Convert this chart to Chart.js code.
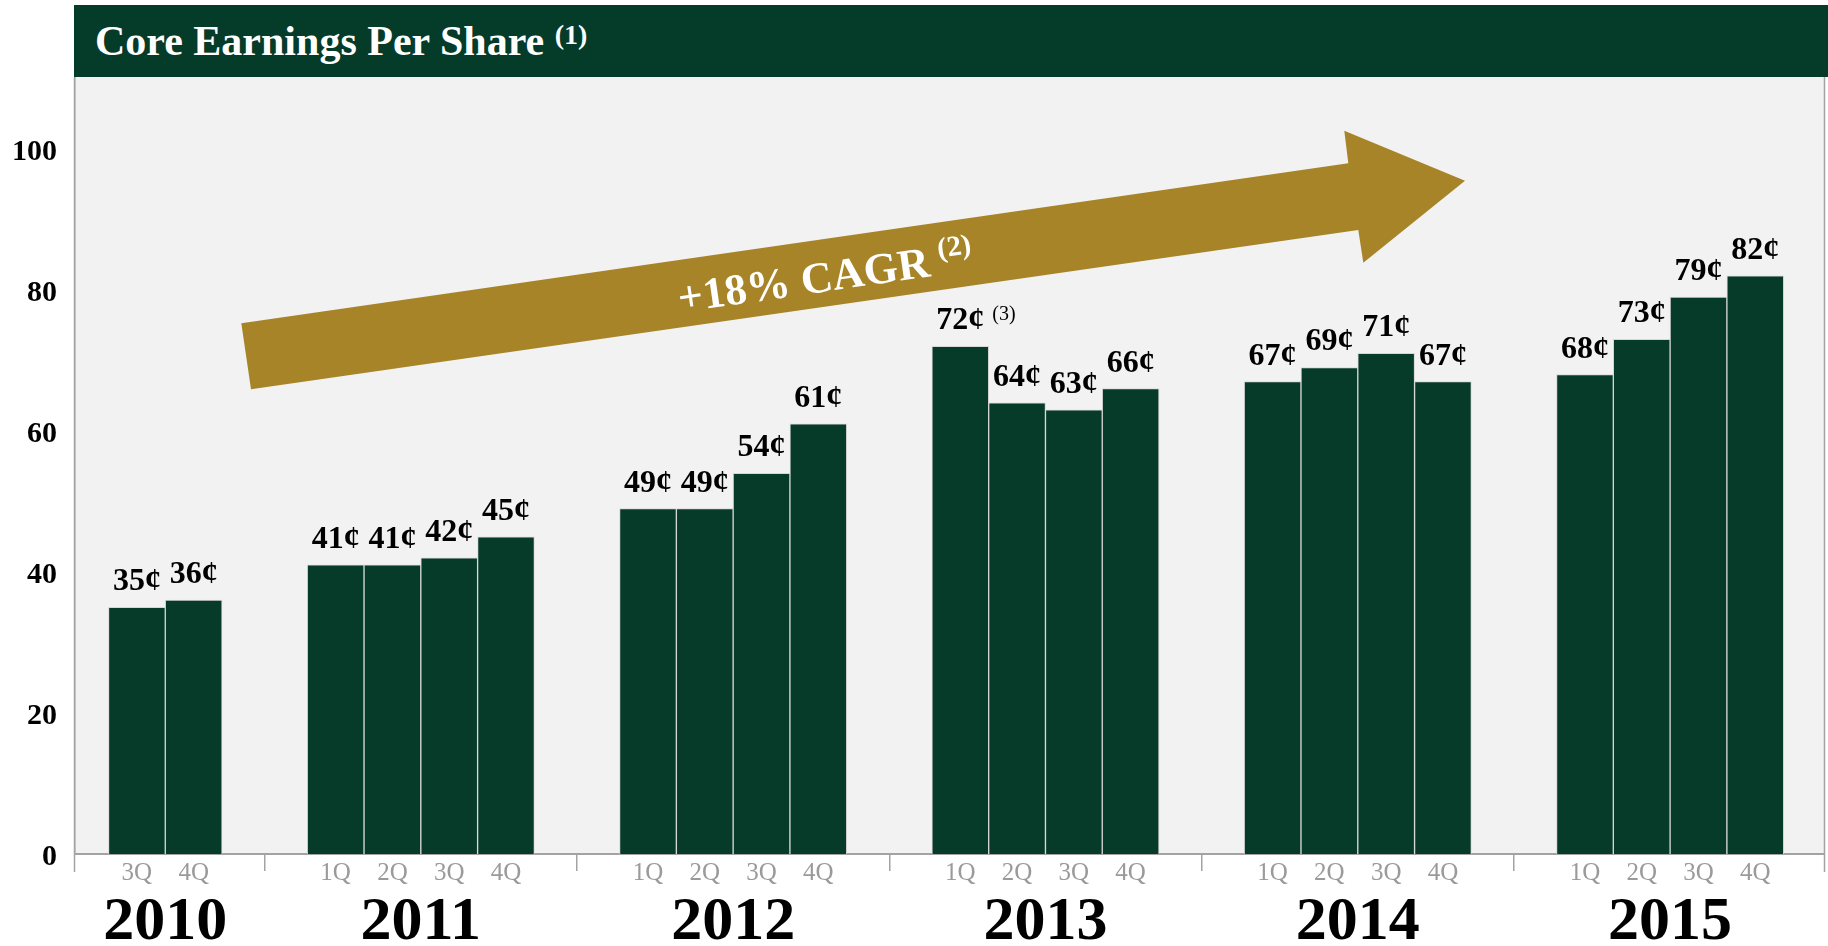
<!DOCTYPE html>
<html>
<head>
<meta charset="utf-8">
<script src="https://cdn.jsdelivr.net/npm/chart.js@4.4.1/dist/chart.umd.min.js"></script>
<style>
  html, body { margin:0; padding:0; background:#ffffff; width:1828px; height:946px; overflow:hidden; }
  #wrap { position:relative; width:1828px; height:946px; }
  #c { position:absolute; left:0; top:0; }
  #hdr { position:absolute; left:74px; top:5px; width:1754px; height:72px; background:#053b29; z-index:2; }
  #hdr .t { position:absolute; left:21px; top:15px; white-space:nowrap;
            font-family:'Liberation Serif','Times New Roman',serif; font-weight:bold;
            font-size:42px; line-height:42px; color:#ffffff; }
  #hdr .t sup { font-size:28px; vertical-align:baseline; position:relative; top:-11px; }
</style>
</head>
<body>
<div id="wrap">
  <canvas id="c" width="1828" height="946"></canvas>
  <div id="hdr"><div class="t">Core Earnings Per Share <sup>(1)</sup></div></div>
</div>
<script>
// ---------------- data ----------------
const years = ['2010', '2011', '2012', '2013', '2014', '2015'];
const quarterLabels = [
  ['3Q', '4Q'],
  ['1Q', '2Q', '3Q', '4Q'],
  ['1Q', '2Q', '3Q', '4Q'],
  ['1Q', '2Q', '3Q', '4Q'],
  ['1Q', '2Q', '3Q', '4Q'],
  ['1Q', '2Q', '3Q', '4Q']
];
const eps2010 = [35, 36];
const eps2011 = [41, 41, 42, 45];
const eps2012 = [49, 49, 54, 61];
const eps2013 = [72, 64, 63, 66];
const eps2014 = [67, 69, 71, 67];
const eps2015 = [68, 73, 79, 82];
const epsByYear = [eps2010, eps2011, eps2012, eps2013, eps2014, eps2015];
const yTickValues = [0, 20, 40, 60, 80, 100];
const footnoteYear = '2013', footnoteQuarter = '1Q', footnoteText = '(3)';
const cagrText = '+18% CAGR', cagrNote = '(2)';

// ---------------- layout (not data) ----------------
const GAP = 1.5;          // extra empty space between year groups, in bar widths
const X_LEFT = 1.09;      // space before first bar
const X_RIGHT = 1.21;     // space after last bar
const Y_MAX = 110.2;
const BAR = '#063b2a', GOLD = '#a78428', AXIS = '#a3a3a3';
const FONT = "'Liberation Serif','Times New Roman',serif";

const points = [], qAt = new Map(), groupCenters = [], separators = [], valueText = [];
let p = 0;
years.forEach((yr, gi) => {
  const s = p;
  epsByYear[gi].forEach((v, qi) => {
    points.push({ x: p, y: v });
    qAt.set(p, quarterLabels[gi][qi]);
    valueText.push({ t: v + '\u00a2', note: (yr === footnoteYear && quarterLabels[gi][qi] === footnoteQuarter) ? footnoteText : null });
    p += 1;
  });
  groupCenters.push((s + p - 1) / 2);
  if (gi < years.length - 1) separators.push(p - 1 + (1 + GAP) / 2);
  p += GAP;
});
const lastCenter = points[points.length - 1].x;
const XMIN = -X_LEFT, XMAX = lastCenter + X_RIGHT;
const sepSet = new Set(separators);
const xTickValues = [...qAt.keys(), ...separators].sort((a, b) => a - b);

// ---------------- plugins ----------------
const bgPlugin = {
  id: 'bg',
  beforeDraw(chart) {
    const { ctx, chartArea: a } = chart;
    ctx.save();
    ctx.fillStyle = '#f2f2f2';
    ctx.fillRect(a.left, a.top, a.right - a.left, a.bottom - a.top);
    ctx.restore();
  }
};

const arrowPlugin = {
  id: 'cagrArrow',
  beforeDatasetsDraw(chart) {
    const { ctx } = chart;
    const pts = [[241.3, 323.3], [1348.3, 163.3], [1344.3, 130.7], [1465, 180.7],
                 [1363.3, 262.7], [1358.3, 230], [251, 389.3]];
    ctx.save();
    ctx.fillStyle = GOLD;
    ctx.beginPath();
    pts.forEach((q, i) => i ? ctx.lineTo(q[0], q[1]) : ctx.moveTo(q[0], q[1]));
    ctx.closePath();
    ctx.fill();
    const ang = Math.atan2(163.3 - 323.3, 1348.3 - 241.3);
    const cx = 804, cy = 283;
    ctx.translate(cx, cy);
    ctx.rotate(ang);
    ctx.fillStyle = '#ffffff';
    ctx.font = 'bold 44px ' + FONT;
    ctx.textAlign = 'center';
    ctx.textBaseline = 'middle';
    ctx.fillText(cagrText, 0, 0);
    const w = ctx.measureText(cagrText).width;
    ctx.font = 'bold 29px ' + FONT;
    ctx.textAlign = 'left';
    ctx.fillText(cagrNote, w / 2 + 10, -13);
    ctx.restore();
  }
};

const labelPlugin = {
  id: 'valueLabels',
  afterDatasetsDraw(chart) {
    const { ctx } = chart;
    const meta = chart.getDatasetMeta(0);
    ctx.save();
    ctx.fillStyle = '#000000';
    ctx.textBaseline = 'alphabetic';
    meta.data.forEach((el, i) => {
      const lab = valueText[i];
      ctx.font = 'bold 32px ' + FONT;
      ctx.textAlign = 'center';
      const by = el.y - 17;
      ctx.fillText(lab.t, el.x, by);
      if (lab.note) {
        const w = ctx.measureText(lab.t).width;
        ctx.font = '20px ' + FONT;
        ctx.textAlign = 'left';
        ctx.fillText(lab.note, el.x + w / 2 + 8, by - 9);
      }
    });
    ctx.restore();
  }
};

const framePlugin = {
  id: 'frame',
  afterDraw(chart) {
    const { ctx, chartArea: a } = chart;
    ctx.save();
    ctx.strokeStyle = AXIS;
    ctx.lineWidth = 1.5;
    ctx.beginPath();
    ctx.moveTo(a.left - 0.5, a.top); ctx.lineTo(a.left - 0.5, a.bottom + 18);
    ctx.moveTo(a.right + 0.5, a.top); ctx.lineTo(a.right + 0.5, a.bottom + 18);
    ctx.stroke();
    ctx.restore();
  }
};

// ---------------- chart ----------------
Chart.defaults.font.family = FONT;

new Chart(document.getElementById('c'), {
  type: 'bar',
  data: {
    datasets: [{
      data: points,
      backgroundColor: BAR,
      borderColor: '#d6d6d6',
      borderWidth: 1,
      barPercentage: 1,
      categoryPercentage: 1
    }]
  },
  options: {
    responsive: false,
    animation: false,
    devicePixelRatio: 1,
    layout: { padding: { top: 77, right: 4, left: 0, bottom: 0 } },
    plugins: { legend: { display: false }, tooltip: { enabled: false } },
    scales: {
      x: {
        type: 'linear', position: 'bottom', min: XMIN, max: XMAX, offset: false,
        afterBuildTicks: a => { a.ticks = xTickValues.map(v => ({ value: v })); },
        afterFit: a => { a.height = 30; },
        grid: {
          display: true, offset: false, drawOnChartArea: false, drawTicks: true, tickLength: 17,
          lineWidth: 1.5,
          color: c => (c.tick && sepSet.has(c.tick.value)) ? AXIS : 'rgba(0,0,0,0)'
        },
        border: { display: true, color: AXIS, width: 2 },
        ticks: {
          autoSkip: false, maxRotation: 0, minRotation: 0, padding: -13,
          color: '#9a9a9a', font: { size: 25, lineHeight: 1.2 },
          callback: v => qAt.has(v) ? qAt.get(v) : ''
        }
      },
      years: {
        type: 'linear', position: 'bottom', weight: 1, min: XMIN, max: XMAX, offset: false,
        afterBuildTicks: a => { a.ticks = groupCenters.map(v => ({ value: v })); },
        afterFit: a => { a.height = 62; },
        grid: { display: false },
        border: { display: false },
        ticks: {
          autoSkip: false, maxRotation: 0, minRotation: 0, padding: 0,
          color: '#000000', font: { size: 62, weight: 'bold', lineHeight: 1 },
          callback: (v, i) => years[i]
        }
      },
      y: {
        type: 'linear', min: 0, max: Y_MAX,
        afterBuildTicks: a => { a.ticks = yTickValues.map(v => ({ value: v })); },
        afterFit: a => { a.width = 75; },
        grid: { display: false, drawTicks: false },
        border: { display: true, color: AXIS, width: 1.5 },
        ticks: {
          padding: 18, color: '#000000', font: { size: 30, weight: 'bold', lineHeight: '6px' },
          callback: v => ['', String(v)]
        }
      }
    }
  },
  plugins: [bgPlugin, arrowPlugin, labelPlugin, framePlugin]
});
</script>
</body>
</html>
